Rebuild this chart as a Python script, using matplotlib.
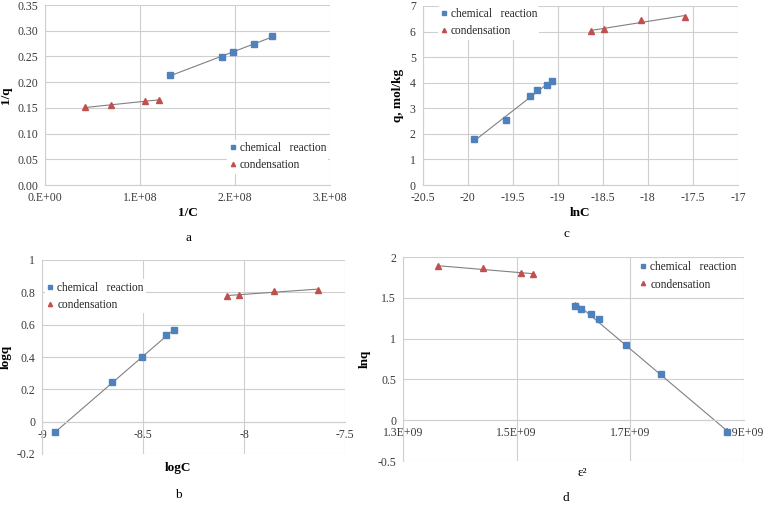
import numpy as np
import matplotlib
matplotlib.use("Agg")
import matplotlib.pyplot as plt
from matplotlib.ticker import FuncFormatter

plt.rcParams['font.family'] = ['Liberation Serif', 'DejaVu Serif']

# ---- data ----
# panel a : 1/q vs 1/C
a_chem_x = [1.316e8, 1.867e8, 1.975e8, 2.20e8, 2.386e8]
a_chem_y = [0.214, 0.248, 0.258, 0.2735, 0.290]
a_cond_x = [0.421e8, 0.695e8, 1.049e8, 1.20e8]
a_cond_y = [0.151, 0.155, 0.164, 0.165]
# panel c : q vs lnC
c_chem_x = [-19.93, -19.58, -19.31, -19.23, -19.125, -19.07]
c_chem_y = [1.78, 2.54, 3.47, 3.71, 3.91, 4.07]
c_cond_x = [-18.63, -18.49, -18.08, -17.59]
c_cond_y = [6.02, 6.10, 6.45, 6.58]
# panel b : logq vs logC
b_chem_x = [-8.934, -8.651, -8.503, -8.385, -8.347]
b_chem_y = [-0.064, 0.243, 0.399, 0.537, 0.564]
b_cond_x = [-8.083, -8.027, -7.852, -7.632]
b_cond_y = [0.778, 0.784, 0.807, 0.817]
# panel d : lnq vs eps^2
d_chem_x = [1.6035e9, 1.613e9, 1.6305e9, 1.6446e9, 1.692e9, 1.7538e9, 1.8706e9]
d_chem_y = [1.40, 1.359, 1.306, 1.24, 0.922, 0.562, -0.145]
d_cond_x = [1.362e9, 1.441e9, 1.507e9, 1.529e9]
d_cond_y = [1.886, 1.861, 1.804, 1.792]

labels = ["chemical   reaction", "condensation"]
BLUE = "#4F81BD"
RED = "#C0504D"
GRID = "#CFCFCF"
TXT = "#3A3A3A"

W, H = 766, 507
fig = plt.figure(figsize=(W / 100, H / 100), dpi=100)


def add_ax(l, r, t, b):
    return fig.add_axes([l / W, 1 - b / H, (r - l) / W, (b - t) / H])


def style(ax):
    ax.grid(True, color=GRID, lw=0.8)
    ax.set_axisbelow(True)
    for s in ax.spines.values():
        s.set_color(GRID)
        s.set_linewidth(0.8)
    ax.spines['top'].set_visible(False)
    ax.spines['right'].set_visible(False)
    ax.tick_params(length=0, labelsize=8.5, colors=TXT)
    ax.tick_params(axis='y', pad=5)
    ax.tick_params(axis='x', pad=5)


def draw(ax, cx, cy, kx, ky):
    for xs, ys in ((cx, cy), (kx, ky)):
        p = np.polyfit(xs, ys, 1)
        xx = np.array([min(xs), max(xs)])
        ax.plot(xx, np.polyval(p, xx), color='#808080', lw=0.8, zorder=2)
    h1, = ax.plot(cx, cy, 's', color=BLUE, ms=3.8, ls='none', zorder=3)
    h2, = ax.plot(kx, ky, '^', color=RED, ms=3.8, ls='none', zorder=3)
    return [h1, h2]


def legend(ax, hs, anchor):
    lg = ax.legend(hs, labels, loc='upper left', bbox_to_anchor=anchor,
                   fontsize=8.3, handlelength=0.5, handletextpad=0.35,
                   labelspacing=0.45, borderpad=0.2, frameon=True,
                   borderaxespad=0, markerscale=0.8)
    lg.get_frame().set_facecolor('white')
    lg.get_frame().set_edgecolor('none')
    lg.get_frame().set_alpha(1)
    for t in lg.get_texts():
        t.set_color('#222222')


# ---- panel a ----
ax = add_ax(45, 330, 5, 185)
style(ax)
hs = draw(ax, a_chem_x, a_chem_y, a_cond_x, a_cond_y)
ax.set_xlim(0, 3e8)
ax.set_ylim(0, 0.35)
ax.set_xticks([0, 1e8, 2e8, 3e8])
ax.set_xticklabels(["0.E+00", "1.E+08", "2.E+08", "3.E+08"])
ax.set_yticks(np.arange(0, 0.36, 0.05))
ax.yaxis.set_major_formatter(FuncFormatter(lambda v, p: f"{v:.2f}"))
ax.set_xlabel("1/C", fontweight='bold', fontsize=9.5, labelpad=2)
ax.set_ylabel("1/q", fontweight='bold', fontsize=9.5, labelpad=4)
legend(ax, hs, (0.64, 0.25))
fig.text(188 / W, 1 - 238 / H, "a", fontsize=9.5, ha='center', va='center')

# ---- panel c ----
ax = add_ax(422.7, 738, 6, 185)
style(ax)
hs = draw(ax, c_chem_x, c_chem_y, c_cond_x, c_cond_y)
ax.set_xlim(-20.5, -17)
ax.set_ylim(0, 7)
ax.set_xticks(np.arange(-20.5, -16.9, 0.5))
ax.xaxis.set_major_formatter(FuncFormatter(lambda v, p: f"{v:g}"))
ax.set_yticks(range(0, 8))
ax.set_xlabel("lnC", fontweight='bold', fontsize=9.5, labelpad=2)
ax.set_ylabel("q, mol/kg", fontweight='bold', fontsize=9.5, labelpad=4)
legend(ax, hs, (0.05, 1.0))
fig.text(566 / W, 1 - 234 / H, "c", fontsize=9.5, ha='center', va='center')

# ---- panel b ----
ax = add_ax(42, 345, 260, 454)
style(ax)
hs = draw(ax, b_chem_x, b_chem_y, b_cond_x, b_cond_y)
ax.set_xlim(-9, -7.5)
ax.set_ylim(-0.2, 1.0)
ax.spines['bottom'].set_position(('data', 0))
ax.set_xticks([-9, -8.5, -8, -7.5])
ax.xaxis.set_major_formatter(FuncFormatter(lambda v, p: f"{v:g}"))
ax.set_yticks(np.arange(-0.2, 1.01, 0.2))
ax.yaxis.set_major_formatter(FuncFormatter(lambda v, p: f"{round(v, 1):g}"))
ax.set_ylabel("logq", fontweight='bold', fontsize=9.5, labelpad=3)
fig.text(178 / W, 1 - 468 / H, "logC", fontweight='bold', fontsize=9.5,
         ha='center', va='center')
legend(ax, hs, (0.01, 0.9))
fig.text(178 / W, 1 - 495 / H, "b", fontsize=9.5, ha='center', va='center')

# ---- panel d ----
ax = add_ax(403, 744, 257, 461)
style(ax)
hs = draw(ax, d_chem_x, d_chem_y, d_cond_x, d_cond_y)
ax.set_xlim(1.3e9, 1.9e9)
ax.set_ylim(-0.5, 2.0)
ax.spines['bottom'].set_position(('data', 0))
ax.set_xticks([1.3e9, 1.5e9, 1.7e9, 1.9e9])
ax.set_xticklabels(["1.3E+09", "1.5E+09", "1.7E+09", "1.9E+09"])
ax.set_yticks(np.arange(-0.5, 2.01, 0.5))
ax.yaxis.set_major_formatter(FuncFormatter(lambda v, p: f"{v:g}"))
ax.set_ylabel("lnq", fontweight='bold', fontsize=9.5, labelpad=5)
fig.text(582 / W, 1 - 473 / H, "ε²", fontsize=9.5, ha='center', va='center')
legend(ax, hs, (0.69, 0.99))
fig.text(566 / W, 1 - 498 / H, "d", fontsize=9.5, ha='center', va='center')

fig.savefig("out.png", dpi=100)
